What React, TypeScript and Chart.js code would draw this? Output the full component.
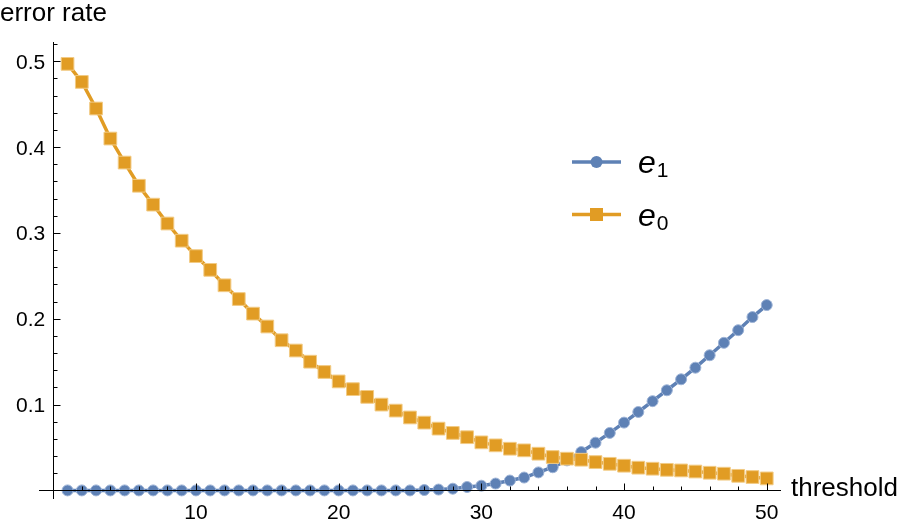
import React, { useEffect, useRef } from "react";
import { Chart, registerables } from "chart.js";

Chart.register(...registerables);

// ---------- data ----------
const thresholds = [
  1, 2, 3, 4, 5, 6, 7, 8, 9, 10, 11, 12, 13, 14, 15, 16, 17, 18, 19, 20, 21, 22, 23, 24, 25,
  26, 27, 28, 29, 30, 31, 32, 33, 34, 35, 36, 37, 38, 39, 40, 41, 42, 43, 44, 45, 46, 47, 48, 49, 50,
];

const e1Values = [
  0, 0, 0, 0, 0, 0, 0, 0, 0, 0, 0, 0, 0, 0, 0, 0, 0, 0, 0, 0, 0, 0, 0, 0, 0,
  0.0005, 0.001, 0.002, 0.004, 0.0055, 0.008, 0.0115, 0.015, 0.021, 0.027, 0.035, 0.0447, 0.0556, 0.067, 0.079,
  0.0914, 0.104, 0.1167, 0.1295, 0.143, 0.1575, 0.172, 0.1867, 0.202, 0.216,
];

const e0Values = [
  0.497, 0.476, 0.445, 0.41, 0.382, 0.355, 0.333, 0.311, 0.291, 0.273,
  0.257, 0.239, 0.223, 0.206, 0.191, 0.175, 0.163, 0.15, 0.138, 0.127,
  0.118, 0.109, 0.1, 0.093, 0.085, 0.079, 0.072, 0.067, 0.062, 0.056,
  0.0525, 0.0486, 0.0467, 0.0428, 0.0389, 0.037, 0.0358, 0.033, 0.031, 0.0288,
  0.0265, 0.0253, 0.024, 0.0233, 0.022, 0.0206, 0.0195, 0.017, 0.0156, 0.014,
];

const seriesBase = ["e", "e"];
const seriesSub = ["1", "0"];

const xMajorTicks = [10, 20, 30, 40, 50];
const xMajorLabels = ["10", "20", "30", "40", "50"];
const xMinorTicks = [2, 4, 6, 8, 12, 14, 16, 18, 22, 24, 26, 28, 32, 34, 36, 38, 42, 44, 46, 48];
const yMajorTicks = [0.1, 0.2, 0.3, 0.4, 0.5];
const yMajorLabels = ["0.1", "0.2", "0.3", "0.4", "0.5"];
const yMinorTicks = [0.02, 0.04, 0.06, 0.08, 0.12, 0.14, 0.16, 0.18, 0.22, 0.24, 0.26, 0.28, 0.32, 0.34, 0.36, 0.38, 0.42, 0.44, 0.46, 0.48, 0.52];

const xAxisTitle = "threshold";
const yAxisTitle = "error rate";

// ---------- styles ----------
const BLUE = "#5E81B5";
const BLUE_EDGE = "#9DB3D6";
const ORANGE = "#E19C24";
const ORANGE_EDGE = "#F2CB85";
const FONT = "'Liberation Sans', Arial, Helvetica, sans-serif";

const axesPlugin = {
  id: "mmaAxes",
  afterDatasetsDraw(chart: any) {
    const { ctx, chartArea } = chart;
    const xs = chart.scales.x;
    const ys = chart.scales.y;
    const x0 = Math.round(xs.getPixelForValue(0)) + 0.5;
    const y0 = Math.round(ys.getPixelForValue(0)) + 0.5;
    ctx.save();
    ctx.strokeStyle = "#000";
    ctx.lineWidth = 1;
    ctx.beginPath();
    ctx.moveTo(chartArea.left, y0);
    ctx.lineTo(chartArea.right, y0);
    ctx.moveTo(x0, chartArea.top);
    ctx.lineTo(x0, chartArea.bottom);
    xMajorTicks.forEach((v) => {
      const px = Math.round(xs.getPixelForValue(v)) + 0.5;
      ctx.moveTo(px, y0);
      ctx.lineTo(px, y0 - 7);
    });
    xMinorTicks.forEach((v) => {
      const px = Math.round(xs.getPixelForValue(v)) + 0.5;
      ctx.moveTo(px, y0);
      ctx.lineTo(px, y0 - 4);
    });
    yMajorTicks.forEach((v) => {
      const py = Math.round(ys.getPixelForValue(v)) + 0.5;
      ctx.moveTo(x0, py);
      ctx.lineTo(x0 + 7, py);
    });
    yMinorTicks.forEach((v) => {
      const py = Math.round(ys.getPixelForValue(v)) + 0.5;
      ctx.moveTo(x0, py);
      ctx.lineTo(x0 + 4, py);
    });
    ctx.stroke();
    ctx.restore();
  },
  afterDraw(chart: any) {
    const { ctx } = chart;
    const xs = chart.scales.x;
    const ys = chart.scales.y;
    const x0 = xs.getPixelForValue(0);
    const y0 = ys.getPixelForValue(0);
    ctx.save();
    ctx.fillStyle = "#000";
    ctx.font = `21px ${FONT}`;
    ctx.textAlign = "center";
    ctx.textBaseline = "alphabetic";
    xMajorTicks.forEach((v, i) => {
      ctx.fillText(xMajorLabels[i], xs.getPixelForValue(v), y0 + 29);
    });
    ctx.textAlign = "right";
    yMajorTicks.forEach((v, i) => {
      ctx.fillText(yMajorLabels[i], x0 - 8, ys.getPixelForValue(v) + 7.5);
    });
    ctx.font = `26px ${FONT}`;
    ctx.textAlign = "left";
    ctx.fillText(yAxisTitle, 0, 21);
    ctx.fillText(xAxisTitle, 791, y0 + 6);

    // legend
    const rows = [162, 214.5];
    chart.data.datasets.forEach((ds: any, i: number) => {
      const cy = rows[i];
      ctx.strokeStyle = ds.borderColor;
      ctx.lineWidth = 3.5;
      ctx.beginPath();
      ctx.moveTo(572, cy);
      ctx.lineTo(621, cy);
      ctx.stroke();
      ctx.fillStyle = ds.pointBackgroundColor;
      if (ds.pointStyle === "rect") {
        ctx.fillRect(590, cy - 6.5, 13, 13);
      } else {
        ctx.beginPath();
        ctx.arc(596.5, cy, 6, 0, Math.PI * 2);
        ctx.fill();
      }
      ctx.fillStyle = "#000";
      ctx.font = `italic 32px ${FONT}`;
      ctx.fillText(seriesBase[i], 638, cy + 11);
      const w = ctx.measureText(seriesBase[i]).width;
      ctx.font = `21px ${FONT}`;
      ctx.fillText(seriesSub[i], 638 + w + 1, cy + 15);
    });
    ctx.restore();
  },
};

export default function App() {
  const canvasRef = useRef<HTMLCanvasElement | null>(null);

  useEffect(() => {
    if (!canvasRef.current) return;
    const chart = new Chart(canvasRef.current, {
      type: "line",
      data: {
        datasets: [
          {
            label: "e1",
            data: thresholds.map((t, i) => ({ x: t, y: e1Values[i] })),
            borderColor: BLUE,
            backgroundColor: BLUE,
            pointBackgroundColor: BLUE,
            pointBorderColor: BLUE_EDGE,
            pointBorderWidth: 1,
            pointRadius: 5.5,
            pointStyle: "circle",
            borderWidth: 3.5,
            tension: 0,
            clip: false,
            order: 1,
          },
          {
            label: "e0",
            data: thresholds.map((t, i) => ({ x: t, y: e0Values[i] })),
            borderColor: ORANGE,
            backgroundColor: ORANGE,
            pointBackgroundColor: ORANGE,
            pointBorderColor: ORANGE_EDGE,
            pointBorderWidth: 1,
            pointRadius: 9,
            pointStyle: "rect",
            borderWidth: 3.5,
            tension: 0,
            clip: false,
            order: 0,
          },
        ],
      },
      options: {
        animation: false,
        responsive: true,
        maintainAspectRatio: false,
        layout: { padding: { left: 39, right: 117, top: 42, bottom: 21 } },
        plugins: { legend: { display: false }, tooltip: { enabled: false } },
        scales: {
          x: { type: "linear", min: -1, max: 51, display: false },
          y: { type: "linear", min: -0.01, max: 0.5225, display: false },
        },
      },
      plugins: [axesPlugin],
    } as any);
    return () => chart.destroy();
  }, []);

  return (
    <div style={{ position: "absolute", left: 0, top: 0, width: 898, height: 520, background: "#fff" }}>
      <canvas ref={canvasRef} />
    </div>
  );
}
